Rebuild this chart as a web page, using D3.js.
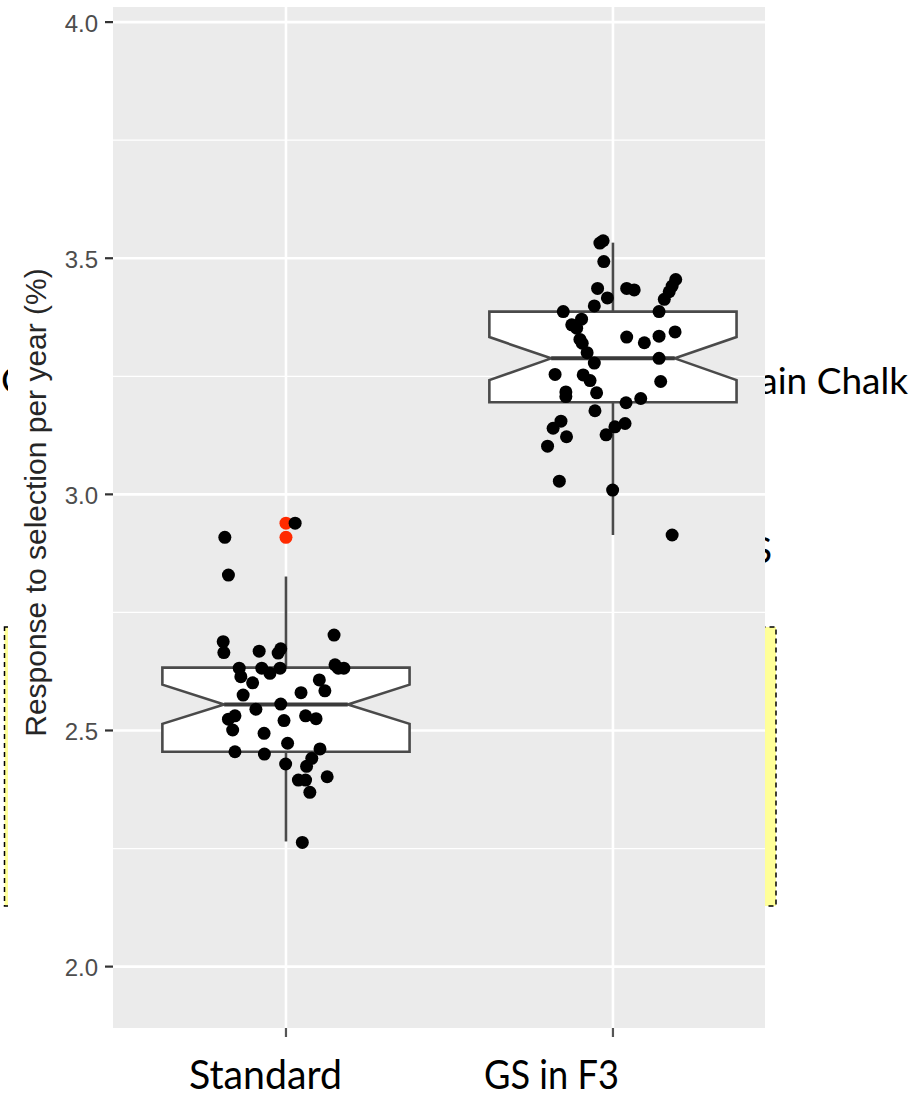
<!DOCTYPE html>
<html>
<head>
<meta charset="utf-8">
<script src="https://cdn.jsdelivr.net/npm/d3@7"></script>
<style>
  html, body { margin: 0; padding: 0; background: #fff; }
  svg { display: block; }
</style>
</head>
<body>
<svg width="915" height="1099"></svg>
<script>
// categories and axis
const categories = ["Standard", "GS in F3"];
const yTicks = [2.0, 2.5, 3.0, 3.5, 4.0];
const yMinor = [2.25, 2.75, 3.25, 3.75];

// box statistics (per category)
const boxLower  = [2.265, 2.914];
const boxQ1     = [2.455, 3.195];
const boxMedian = [2.555, 3.288];
const boxQ3     = [2.633, 3.387];
const boxUpper  = [2.826, 3.533];
const notchLow  = [2.514, 3.242];
const notchHigh = [2.597, 3.333];
const outliers  = [[2.939, 2.909], []];

// jittered points: values and horizontal jitter (category units)
const standardValues = [2.909, 2.829, 2.939, 2.688, 2.665, 2.668, 2.664, 2.673, 2.702, 2.632,
  2.614, 2.601, 2.632, 2.621, 2.632, 2.639, 2.632, 2.632, 2.607, 2.584,
  2.580, 2.575, 2.545, 2.556, 2.521, 2.531, 2.525, 2.524, 2.531, 2.501,
  2.494, 2.473, 2.455, 2.450, 2.461, 2.441, 2.429, 2.424, 2.395, 2.395,
  2.402, 2.369, 2.263];
const standardJitter = [-0.187, -0.176, 0.028, -0.192, -0.190, -0.082, -0.024, -0.016, 0.147, -0.143,
  -0.138, -0.102, -0.074, -0.049, -0.018, 0.150, 0.160, 0.177, 0.102, 0.119,
  0.046, -0.131, -0.092, -0.016, -0.006, 0.060, 0.092, -0.176, -0.156, -0.163,
  -0.067, 0.005, -0.156, -0.066, 0.104, 0.079, -0.001, 0.063, 0.038, 0.060,
  0.126, 0.073, 0.050];

const gsValues = [3.532, 3.537, 3.493, 3.436, 3.416, 3.436, 3.433, 3.455, 3.441, 3.429,
  3.413, 3.399, 3.387, 3.387, 3.371, 3.359, 3.352, 3.333, 3.321, 3.335,
  3.344, 3.328, 3.320, 3.300, 3.278, 3.288, 3.254, 3.253, 3.241, 3.239,
  3.217, 3.207, 3.215, 3.194, 3.203, 3.177, 3.155, 3.140, 3.122, 3.102,
  3.126, 3.143, 3.150, 3.028, 3.009, 2.914];
const gsJitter = [-0.040, -0.030, -0.028, -0.047, -0.017, 0.042, 0.065, 0.192, 0.181, 0.172,
  0.157, -0.057, -0.152, 0.141, -0.096, -0.126, -0.111, 0.042, 0.096, 0.141,
  0.190, -0.101, -0.094, -0.079, -0.057, 0.141, -0.177, -0.091, -0.070, 0.146,
  -0.144, -0.144, -0.050, 0.040, 0.085, -0.055, -0.159, -0.183, -0.142, -0.200,
  -0.021, 0.006, 0.037, -0.164, -0.001, 0.181];

const yTitle = "Response to selection per year (%)";

// ---------------------------------------------------------------
const svg = d3.select("svg");
const panel = { left: 113, right: 765, top: 7, bottom: 1028 };

const x = d3.scaleLinear().domain([0.471, 2.465]).range([panel.left, panel.right]);
const y = d3.scaleLinear().domain([1.87, 4.032]).range([panel.bottom, panel.top]);

const slideFont = "Lato, 'Open Sans', sans-serif";
const plotFont = "'Liberation Sans', Arial, sans-serif";

// slide layer behind the plot picture
svg.append("rect")
    .attr("x", 4.5).attr("y", 627)
    .attr("width", 771.5).attr("height", 279)
    .attr("fill", "#ffff99")
    .attr("stroke", "#000")
    .attr("stroke-width", 1.5)
    .attr("stroke-dasharray", "5,4");

svg.append("text")
    .attr("x", 908).attr("y", 394)
    .attr("text-anchor", "end")
    .attr("font-family", slideFont).attr("font-size", 37)
    .text("ain Chalk");

svg.append("text")
    .attr("x", 772).attr("y", 563)
    .attr("text-anchor", "end")
    .attr("font-family", slideFont).attr("font-size", 37)
    .text("S");

svg.append("text")
    .attr("x", 1).attr("y", 393)
    .attr("font-family", slideFont).attr("font-size", 37)
    .text("C");

// plot picture background
svg.append("rect")
    .attr("x", 8).attr("y", 0)
    .attr("width", panel.right - 8).attr("height", 1048)
    .attr("fill", "#fff");

// panel
svg.append("rect")
    .attr("x", panel.left).attr("y", panel.top)
    .attr("width", panel.right - panel.left)
    .attr("height", panel.bottom - panel.top)
    .attr("fill", "#ebebeb");

const grid = svg.append("g");
grid.selectAll(".minor")
    .data(yMinor)
    .join("line")
    .attr("x1", panel.left).attr("x2", panel.right)
    .attr("y1", d => y(d)).attr("y2", d => y(d))
    .attr("stroke", "#fff").attr("stroke-width", 1.3);

grid.selectAll(".major")
    .data(yTicks)
    .join("line")
    .attr("x1", panel.left).attr("x2", panel.right)
    .attr("y1", d => y(d)).attr("y2", d => y(d))
    .attr("stroke", "#fff").attr("stroke-width", 2.6);

grid.selectAll(".vmajor")
    .data(categories)
    .join("line")
    .attr("x1", (d, i) => x(i + 1)).attr("x2", (d, i) => x(i + 1))
    .attr("y1", panel.top).attr("y2", panel.bottom)
    .attr("stroke", "#fff").attr("stroke-width", 2.6);

// y axis
const yAxis = svg.append("g");
yAxis.selectAll("line")
    .data(yTicks)
    .join("line")
    .attr("x1", panel.left - 8).attr("x2", panel.left)
    .attr("y1", d => y(d)).attr("y2", d => y(d))
    .attr("stroke", "#333").attr("stroke-width", 2.2);
yAxis.selectAll("text")
    .data(yTicks)
    .join("text")
    .attr("x", panel.left - 15)
    .attr("y", d => y(d) + 9.5)
    .attr("text-anchor", "end")
    .attr("font-family", plotFont).attr("font-size", 24)
    .attr("fill", "#4d4d4d")
    .text(d3.format(".1f"));

svg.append("text")
    .attr("transform", `translate(46,${(265 + 740) / 2}) rotate(-90)`)
    .attr("text-anchor", "middle")
    .attr("font-family", plotFont).attr("font-size", 30)
    .attr("fill", "#262626")
    .text(yTitle);

// x axis ticks
svg.selectAll(".xtick")
    .data(categories)
    .join("line")
    .attr("x1", (d, i) => x(i + 1)).attr("x2", (d, i) => x(i + 1))
    .attr("y1", panel.bottom).attr("y2", panel.bottom + 9)
    .attr("stroke", "#555").attr("stroke-width", 2.2);

// boxplots
const halfW = 0.378;
const boxes = svg.append("g");
categories.forEach((c, i) => {
    const cx = i + 1;
    const g = boxes.append("g");
    g.append("line")
        .attr("x1", x(cx)).attr("x2", x(cx))
        .attr("y1", y(boxUpper[i])).attr("y2", y(boxQ3[i]))
        .attr("stroke", "#4a4a4a").attr("stroke-width", 2.6);
    g.append("line")
        .attr("x1", x(cx)).attr("x2", x(cx))
        .attr("y1", y(boxQ1[i])).attr("y2", y(boxLower[i]))
        .attr("stroke", "#4a4a4a").attr("stroke-width", 2.6);

    const pts = [
        [cx - halfW, boxQ3[i]], [cx + halfW, boxQ3[i]],
        [cx + halfW, notchHigh[i]], [cx + halfW / 2, boxMedian[i]],
        [cx + halfW, notchLow[i]], [cx + halfW, boxQ1[i]],
        [cx - halfW, boxQ1[i]], [cx - halfW, notchLow[i]],
        [cx - halfW / 2, boxMedian[i]], [cx - halfW, notchHigh[i]]
    ];
    g.append("path")
        .attr("d", "M" + pts.map(p => `${x(p[0])},${y(p[1])}`).join("L") + "Z")
        .attr("fill", "#fff")
        .attr("stroke", "#4a4a4a").attr("stroke-width", 2.6);
    g.append("line")
        .attr("x1", x(cx - halfW / 2)).attr("x2", x(cx + halfW / 2))
        .attr("y1", y(boxMedian[i])).attr("y2", y(boxMedian[i]))
        .attr("stroke", "#3a3a3a").attr("stroke-width", 4);

    g.selectAll("circle")
        .data(outliers[i])
        .join("circle")
        .attr("cx", x(cx)).attr("cy", d => y(d))
        .attr("r", 6.5)
        .attr("fill", "#ff2a00");
});

// jittered points
const allPoints = [
    ...standardValues.map((v, k) => ({ cat: 1, v, j: standardJitter[k] })),
    ...gsValues.map((v, k) => ({ cat: 2, v, j: gsJitter[k] }))
];
svg.append("g")
    .selectAll("circle")
    .data(allPoints)
    .join("circle")
    .attr("cx", d => x(d.cat + d.j))
    .attr("cy", d => y(d.v))
    .attr("r", 6.5)
    .attr("fill", "#000");

// category labels (slide text)
const labelX = [189, 484];
const labelW = [153, 135];
svg.selectAll(".catlab")
    .data(categories)
    .join("text")
    .attr("x", (d, i) => labelX[i]).attr("y", 1089)
    .attr("font-family", slideFont).attr("font-size", 40)
    .attr("textLength", (d, i) => labelW[i])
    .attr("lengthAdjust", "spacingAndGlyphs")
    .attr("fill", "#000")
    .text(d => d);
</script>
</body>
</html>
